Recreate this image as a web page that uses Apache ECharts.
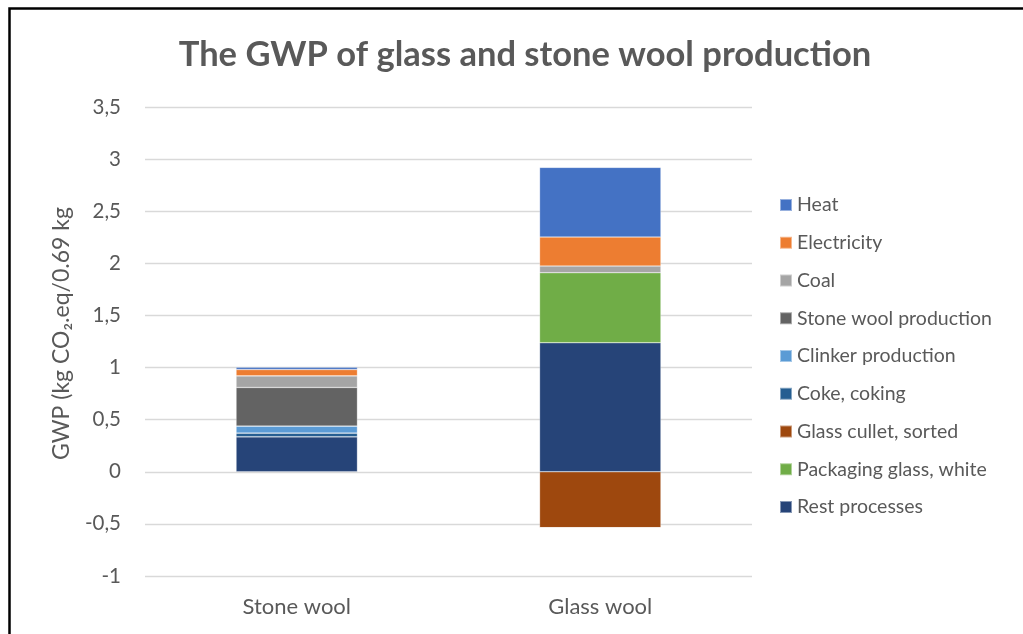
<!DOCTYPE html>
<html>
<head>
<meta charset="utf-8">
<script src="https://cdn.jsdelivr.net/npm/echarts@6/dist/echarts.min.js"></script>
<style>
  html, body { margin: 0; padding: 0; background: #fff; }
  #chart { width: 1023px; height: 634px; }
</style>
</head>
<body>
<div id="chart"></div>
<script>
// Products on the category axis
const categories = ['Stone wool', 'Glass wool'];

// GWP contributions per process (kg CO2-eq per 0.69 kg), [stone wool, glass wool]
const restProcesses      = [0.336, 1.238];
const packagingGlass     = [0, 0.672];
const glassCullet        = [0, -0.537];
const cokeCoking         = [0.035, 0];
const clinkerProduction  = [0.067, 0];
const stoneWoolProd      = [0.371, 0];
const coal               = [0.111, 0.064];
const electricity        = [0.061, 0.278];
const heat               = [0.022, 0.669];

// Value axis range and step
const yMin = -1, yMax = 3.5, yStep = 0.5;

const seriesDefs = [
  { name: 'Rest processes',           data: restProcesses,     color: '#264478' },
  { name: 'Packaging glass, white',   data: packagingGlass,    color: '#70AD47' },
  { name: 'Glass cullet, sorted',     data: glassCullet,       color: '#9E480E' },
  { name: 'Coke, coking',             data: cokeCoking,        color: '#255E91' },
  { name: 'Clinker production',       data: clinkerProduction, color: '#5B9BD5' },
  { name: 'Stone wool production',    data: stoneWoolProd,     color: '#636363' },
  { name: 'Coal',                     data: coal,              color: '#A5A5A5' },
  { name: 'Electricity',              data: electricity,       color: '#ED7D31' },
  { name: 'Heat',                     data: heat,              color: '#4472C4' }
];

const textColor = '#595959';
const font = 'Lato, Open Sans, sans-serif';

const chart = echarts.init(document.getElementById('chart'), null, { renderer: 'canvas' });

chart.setOption({
  animation: false,
  backgroundColor: '#ffffff',
  textStyle: { fontFamily: font },
  title: {
    text: 'The GWP of glass and stone wool production',
    left: 520,
    textAlign: 'center',
    top: 32,
    textStyle: { fontFamily: font, fontSize: 34.5, fontWeight: 'bold', color: textColor }
  },
  legend: {
    orient: 'vertical',
    left: 779,
    top: 195,
    padding: 0,
    itemWidth: 12,
    itemHeight: 12,
    itemGap: 17.75,
    icon: 'rect',
    data: seriesDefs.map(s => s.name).reverse(),
    textStyle: { fontFamily: font, fontSize: 19.5, color: textColor, lineHeight: 20 }
  },
  grid: { left: 145, right: 271, top: 107, bottom: 58, containLabel: false },
  xAxis: {
    type: 'category',
    data: categories,
    axisLine: { show: false },
    axisTick: { show: false },
    axisLabel: { margin: 20, fontSize: 22, color: textColor, fontFamily: font }
  },
  yAxis: {
    type: 'value',
    min: yMin,
    max: yMax,
    interval: yStep,
    name: 'GWP (kg CO\u2082.eq/0.69 kg',
    nameLocation: 'middle',
    nameGap: 72,
    nameRotate: 90,
    nameTextStyle: { fontSize: 23, color: textColor, fontFamily: font, padding: [0, 0, 0, 16] },
    axisLine: { show: false },
    axisTick: { show: false },
    splitLine: { lineStyle: { color: '#D9D9D9', width: 1.3 } },
    axisLabel: {
      margin: 24,
      fontSize: 20.5,
      color: textColor,
      fontFamily: font,
      formatter: v => String(v).replace('.', ',')
    }
  },
  series: seriesDefs.map(s => ({
    name: s.name,
    type: 'bar',
    stack: 'gwp',
    barWidth: '40%',
    data: s.data,
    itemStyle: { color: s.color, borderColor: 'rgba(255,255,255,0.45)', borderWidth: 0.6 },
    emphasis: { disabled: true }
  })),
  graphic: [
    {
      type: 'polyline',
      shape: { points: [[9.5, 640], [9.5, 8.5], [1030, 8.5]] },
      style: { stroke: '#000', lineWidth: 2.5, fill: null },
      silent: true
    }
  ]
});
</script>
</body>
</html>
